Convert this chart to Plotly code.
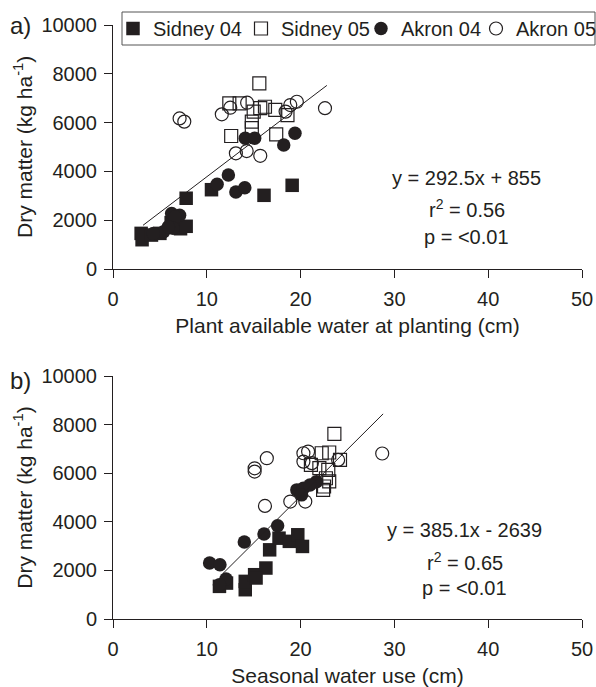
import plotly.graph_objects as go
from plotly.subplots import make_subplots

# ---------------- data: panel a (plant available water at planting) ----------------
a_sid04_x = [3.0, 3.1, 4.1, 5.0, 6.2, 7.2, 7.8, 7.8, 10.5, 16.1, 19.1]
a_sid04_y = [1460, 1200, 1390, 1460, 1900, 1650, 1750, 2900, 3250, 3020, 3430]

a_sid05_x = [15.6, 12.4, 13.5, 16.2, 17.3, 18.6, 15.0, 15.7, 14.8, 14.8, 12.6, 17.4]
a_sid05_y = [7610, 6790, 6790, 6650, 6520, 6310, 6450, 6590, 6040, 5770, 5450, 5520]

a_akr04_x = [14.1, 15.1, 18.2, 19.4, 12.3, 11.1, 13.1, 14.05, 6.25, 7.1, 6.6, 6.4, 5.4, 5.9, 4.3]
a_akr04_y = [5360, 5360, 5080, 5560, 3850, 3470, 3155, 3330, 2270, 2200, 2140, 1670, 1530, 1730, 1455]

a_akr05_x = [7.1, 7.6, 11.6, 12.5, 14.3, 18.4, 18.9, 19.6, 22.6, 13.1, 14.25, 15.7]
a_akr05_y = [6170, 6040, 6340, 6610, 6815, 6450, 6720, 6855, 6590, 4740, 4835, 4640]

a_fit_slope, a_fit_intercept = 292.5, 855
a_fit_xrange = [3.2, 22.8]

# ---------------- data: panel b (seasonal water use) ----------------
b_sid04_x = [14.1, 14.1, 15.1, 16.3, 16.7, 17.7, 18.8, 19.7, 20.2, 11.35, 12.1, 15.25]
b_sid04_y = [1207, 1550, 1825, 2100, 2850, 3330, 3200, 3470, 2990, 1345, 1480, 1690]

b_sid05_x = [23.6, 23.05, 22.25, 24.2, 21.1, 22.0, 22.7, 23.05, 22.5, 22.95, 22.4]
b_sid05_y = [7630, 6860, 6830, 6555, 6350, 6215, 5800, 5670, 5460, 6145, 5320]

b_akr04_x = [10.3, 11.4, 12.05, 11.35, 14.0, 16.1, 17.55, 19.6, 20.3, 20.1, 21.7, 21.0]
b_akr04_y = [2305, 2236, 1646, 1413, 3170, 3500, 3840, 5320, 5390, 5115, 5660, 5525]

b_akr05_x = [20.3, 20.8, 20.3, 21.2, 24.0, 16.4, 15.1, 15.1, 16.2, 18.9, 20.5, 28.7]
b_akr05_y = [6830, 6900, 6485, 6420, 6555, 6625, 6210, 6074, 4660, 4840, 4840, 6820]

b_fit_slope, b_fit_intercept = 385.1, -2639
b_fit_xrange = [11.7, 28.8]

series_names = ["Sidney 04", "Sidney 05", "Akron 04", "Akron 05"]
x_ticks = [0, 10, 20, 30, 40, 50]
x_ticktext = ["0", "10", "20", "30", "40", "50"]
y_ticks = [0, 2000, 4000, 6000, 8000, 10000]
y_ticktext = ["0", "2000", "4000", "6000", "8000", "10000"]

y_title = "Dry matter (kg ha<sup>-1</sup>)"
a_stats = ["y = 292.5x + 855", "r<sup>2</sup> = 0.56", "p = <0.01"]
b_stats = ["y = 385.1x - 2639", "r<sup>2</sup> = 0.65", "p = <0.01"]

# ---------------- figure ----------------
W, H = 596, 687
ML, MR, MT, MB = 113, 14, 25, 68
PW, PH = W - ML - MR, H - MT - MB
INK = "#231f20"
FONT = "Liberation Sans"

def py2paper(py):
    return (H - MB - py) / PH

def px2paper(px):
    return (px - ML) / PW

fig = make_subplots(rows=2, cols=1)

styles = [
    dict(symbol="square", size=13.5, color=INK),
    dict(symbol="square-open", size=13, color=INK, line=dict(width=1.2)),
    dict(symbol="circle", size=13.5, color=INK),
    dict(symbol="circle-open", size=13, color=INK, line=dict(width=1.2)),
]
legends = ["legend", "legend2", "legend3", "legend4"]

panel_a = [(a_sid04_x, a_sid04_y), (a_sid05_x, a_sid05_y), (a_akr04_x, a_akr04_y), (a_akr05_x, a_akr05_y)]
panel_b = [(b_sid04_x, b_sid04_y), (b_sid05_x, b_sid05_y), (b_akr04_x, b_akr04_y), (b_akr05_x, b_akr05_y)]

for i, (xs, ys) in enumerate(panel_a):
    fig.add_trace(go.Scatter(x=xs, y=ys, mode="markers", name=series_names[i],
                             marker=styles[i], legend=legends[i], showlegend=True), row=1, col=1)
for i, (xs, ys) in enumerate(panel_b):
    fig.add_trace(go.Scatter(x=xs, y=ys, mode="markers", name=series_names[i],
                             marker=styles[i], legend=legends[i], showlegend=False), row=2, col=1)

fig.add_trace(go.Scatter(x=a_fit_xrange, y=[a_fit_slope * v + a_fit_intercept for v in a_fit_xrange],
                         mode="lines", line=dict(color=INK, width=1), showlegend=False), row=1, col=1)
fig.add_trace(go.Scatter(x=b_fit_xrange, y=[b_fit_slope * v + b_fit_intercept for v in b_fit_xrange],
                         mode="lines", line=dict(color=INK, width=1), showlegend=False), row=2, col=1)

axis_common = dict(showline=True, linecolor=INK, linewidth=1, ticks="outside", ticklen=8,
                   tickcolor=INK, tickwidth=1, showgrid=False, zeroline=False,
                   tickfont=dict(family=FONT, size=20, color=INK))

top_domain = [py2paper(269), 1.0]
bot_domain = [0.0, py2paper(376.3)]

fig.update_xaxes(range=[0, 50], tickvals=x_ticks, ticktext=x_ticktext, ticklabelstandoff=4, **axis_common)
fig.update_yaxes(range=[0, 10000], tickvals=y_ticks, ticktext=y_ticktext, ticklabelstandoff=3, **axis_common)
fig.update_layout(
    xaxis=dict(domain=[0, 1], title=dict(text="Plant available water at planting (cm)",
                                          font=dict(family=FONT, size=21, color=INK), standoff=9)),
    xaxis2=dict(domain=[0, 1], title=dict(text="Seasonal water use (cm)",
                                           font=dict(family=FONT, size=21, color=INK), standoff=9)),
    yaxis=dict(domain=top_domain),
    yaxis2=dict(domain=bot_domain),
)

# legend: one entry per legend, placed along a common framed box
text_starts = [150, 278, 398, 513]
leg_y = py2paper(28.5)
leg_cfg = {}
for name, ts in zip(legends, text_starts):
    leg_cfg[name] = dict(x=px2paper(ts - 37), xanchor="left", y=leg_y, yanchor="middle",
                         orientation="h", bgcolor="rgba(0,0,0,0)", borderwidth=0,
                         font=dict(family=FONT, size=20, color=INK), itemwidth=30)
fig.update_layout(**leg_cfg)

fig.add_shape(type="rect", xref="paper", yref="paper",
              x0=px2paper(122), x1=px2paper(595), y0=py2paper(45), y1=py2paper(12),
              line=dict(color="#555555", width=1), fillcolor="rgba(0,0,0,0)")

annotations = []
for txt, yv in zip(a_stats, [3729, 2500, 1311]):
    annotations.append(dict(x=37.7, y=yv, xref="x", yref="y", text=txt, showarrow=False,
                            xanchor="center", yanchor="middle",
                            font=dict(family=FONT, size=20, color=INK)))
for txt, yv in zip(b_stats, [3675, 2370, 1276]):
    annotations.append(dict(x=37.5, y=yv, xref="x2", yref="y2", text=txt, showarrow=False,
                            xanchor="center", yanchor="middle",
                            font=dict(family=FONT, size=20, color=INK)))
# y-axis titles
for yref in ["y domain", "y2 domain"]:
    annotations.append(dict(x=px2paper(23), xref="paper", y=0.5, yref=yref, text=y_title,
                            textangle=-90, xanchor="center", yanchor="middle", showarrow=False,
                            font=dict(family=FONT, size=21, color=INK)))
annotations.append(dict(x=px2paper(20), y=py2paper(25), xref="paper", yref="paper", text="a)",
                        xanchor="center", yanchor="middle",
                        showarrow=False, font=dict(family=FONT, size=24, color=INK)))
annotations.append(dict(x=px2paper(20), y=py2paper(381), xref="paper", yref="paper", text="b)",
                        xanchor="center", yanchor="middle",
                        showarrow=False, font=dict(family=FONT, size=24, color=INK)))

fig.update_layout(
    width=W, height=H,
    margin=dict(l=ML, r=MR, t=MT, b=MB, autoexpand=False),
    paper_bgcolor="white", plot_bgcolor="white",
    font=dict(family=FONT, color=INK),
    annotations=annotations,
)

fig.write_html("out.html", config={"displayModeBar": False},
               post_script="document.body.style.margin='0';")
